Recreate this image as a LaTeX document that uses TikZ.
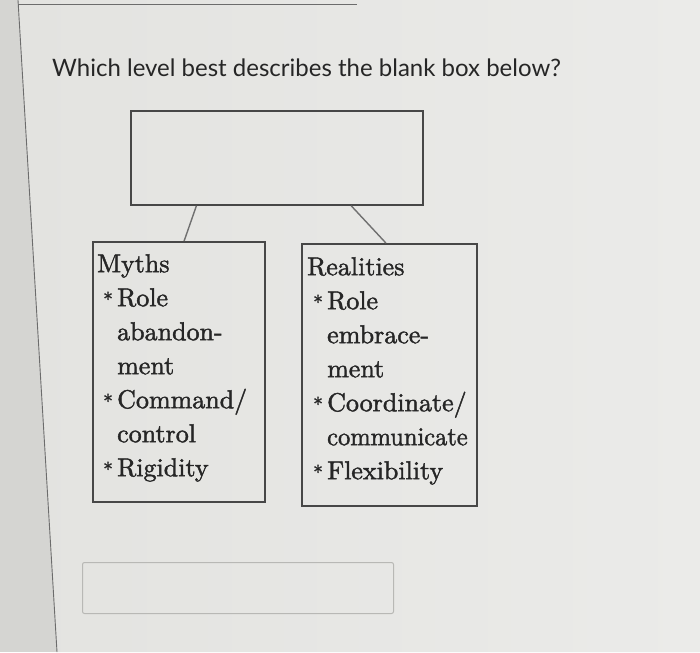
\documentclass[tikz,border=0pt]{standalone}
\usepackage{fontspec}
\newfontfamily\titlefont{Lato}
\newfontfamily\boxfont{lmroman10-regular.otf}[AutoFakeBold=1.6]
\usetikzlibrary{calc}
\definecolor{pagegray}{HTML}{E3E3E0}
\definecolor{pagelight}{HTML}{EBEBE9}
\definecolor{edgegray}{HTML}{D5D5D2}
\definecolor{inkgray}{HTML}{262626}
\definecolor{linegray}{HTML}{474747}
\definecolor{wiregray}{HTML}{707070}
\definecolor{fieldgray}{HTML}{B8B8B5}
\newcommand\bul{\makebox[20pt][l]{\hspace{6pt}\scalebox{0.75}{*}}}
\newcommand\ind{\hspace*{20pt}}

\begin{document}
\begin{tikzpicture}[x=1pt,y=-1pt,
    levelbox/.style={draw=linegray, line width=1.8pt, anchor=north west, inner sep=0pt},
    itemtext/.style={anchor=north west, inner sep=0pt, align=left, text=inkgray,
        font=\boxfont\bfseries\fontsize{26}{34}\selectfont}]

    \useasboundingbox (0,0) rectangle (700,652);
    \fill[edgegray] (0,0) rectangle (700,652);
    \shade[left color=pagegray, right color=pagelight] (18,0) -- (700,0) -- (700,652) -- (57,652) -- cycle;
    \draw[linegray!80, line width=0.9pt] (18,0) -- (57,652);
    \draw[linegray!80, line width=0.9pt] (18,4) -- (357,4);

    \node[anchor=base west, inner sep=0pt, text=inkgray, font=\titlefont\fontsize{24}{28}\selectfont]
        (question) at (52,77) {Which level best describes the blank box below?};

    \node[levelbox, minimum width=292pt, minimum height=94pt] (blank) at (130,110) {};
    \node[levelbox, minimum width=172pt, minimum height=260pt] (myths) at (92,241) {};
    \node[levelbox, minimum width=175pt, minimum height=262pt] (realities) at (301,243) {};

    \node[itemtext] (mythslist) at ($(myths.north west)+(5,13)$)
        {Myths\\ \bul Role\\ \ind abandon-\\ \ind ment\\ \bul Command/\\ \ind control\\ \bul Rigidity};
    \node[itemtext] (realitieslist) at ($(realities.north west)+(6,14)$)
        {Realities\\ \bul Role\\ \ind embrace-\\ \ind ment\\ \bul Coordinate/\\ \ind \scalebox{0.94}[1]{communicate}\\ \bul Flexibility};

    \coordinate (b1) at ($(blank.south west)!0.226!(blank.south east)$);
    \coordinate (b2) at ($(blank.south west)!0.753!(blank.south east)$);
    \coordinate (m1) at ($(myths.north west)!0.53!(myths.north east)$);
    \coordinate (r1) at ($(realities.north west)!0.48!(realities.north east)$);

    \draw[wiregray, line width=1.4pt] (b1) -- (m1);
    \draw[wiregray, line width=1.4pt] (b2) -- (r1);

    \node[draw=fieldgray, line width=1pt, rounded corners=2pt, anchor=north west, inner sep=0pt,
        minimum width=311pt, minimum height=51pt] (answer) at (82,562) {};

\end{tikzpicture}
\end{document}
